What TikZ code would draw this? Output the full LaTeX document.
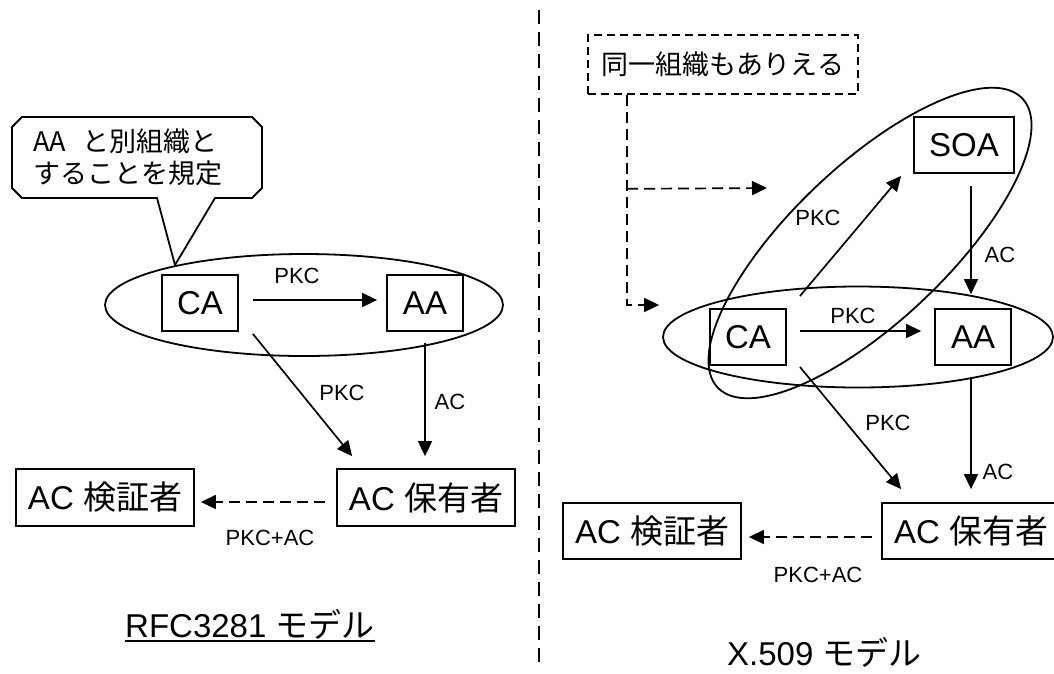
\documentclass[tikz,border=0pt]{standalone}
\usepackage{fontspec}
\setmainfont{Liberation Sans}
\newfontfamily\jp{Noto Sans CJK JP}
\usetikzlibrary{arrows.meta,calc,shapes.geometric}
\begin{document}
\begin{tikzpicture}[x=1pt,y=-1pt,
  box/.style={draw,line width=1.8pt,minimum width=76pt,minimum height=56pt,inner sep=0pt,font=\fontsize{33}{36}\selectfont},
  wbox/.style={box,minimum width=178pt,minimum height=57pt},
  oval/.style={draw,line width=1.8pt,ellipse,inner sep=0pt},
  arr/.style={line width=1.7pt,-{Triangle[length=15pt,width=14pt]}},
  darr/.style={line width=1.7pt,dash pattern=on 11pt off 6pt,-{Triangle[length=15pt,width=14pt]}},
  lbl/.style={inner sep=0pt,font=\fontsize{22}{24}\selectfont},
  divider/.style={line width=1.7pt,dash pattern=on 14pt off 8pt}
]
\useasboundingbox (0,0) rectangle (1054,673);

% ---------- left: RFC3281 ----------
\node[oval,minimum width=398pt,minimum height=102pt] (ellL) at (304,305) {};
\node[box] (caL) at (200,303) {CA};
\node[box] (aaL) at (425,303) {AA};
\node[wbox] (verL) at (105,497.5) {AC {\jp 検証者}};
\node[wbox] (holL) at (426,497.5) {AC {\jp 保有者}};

% callout
\coordinate (tipL) at (175,265);
\draw[line width=1.8pt,fill=white] (22,117) -- (252,117) -- (262,127) -- (262,188) -- (252,198) -- (215,198)
  -- (tipL) -- (157,198) -- (22,198) -- (12,188) -- (12,127) -- cycle;
\node[anchor=west,inner sep=0pt,align=left,font=\jp\fontsize{27}{32}\selectfont] (callout) at (33,157)
  {AA\hspace{0.6em}と別組織と\\することを規定};

\draw[arr] ($(caL.east)+(14,-3)$) -- ($(aaL.west)+(-9,-3)$);
\node[lbl] (l1) at (297,276) {PKC};
\draw[arr] ($(caL.south east)+(14,2)$) -- ($(holL.north west)+(16,-12)$);
\node[lbl] (l2) at (342,393) {PKC};
\draw[arr] ($(aaL.south)+(0,11)$) -- ($(aaL.south |- holL.north)+(0,-12)$);
\node[lbl] (l3) at (450,402) {AC};
\draw[darr] ($(holL.west)+(-11,4.5)$) -- ($(verL.east)+(6,4.5)$);
\node[lbl] (l4) at (270,538) {PKC+AC};

\node[anchor=base west,inner sep=0pt,font=\fontsize{33}{36}\selectfont] (t1) at (125,637) {RFC3281 {\jp モデル}};
\draw[line width=2.8pt] ($(t1.base west)+(0,4)$) -- ($(t1.base east)+(0,4)$);

% divider
\coordinate (dtop) at (539,10);
\coordinate (dbot) at (539,668);
\draw[divider] (dtop) -- (dbot);

% ---------- right: X.509 ----------
\node[oval,minimum width=390pt,minimum height=101pt] (ellR) at (858,337) {};
\node[oval,rotate=43.5,minimum width=420pt,minimum height=156pt] (ellT) at (870,243) {};
\node[box] (caR) at (748,337) {CA};
\node[box] (aaR) at (973,337) {AA};
\node[box,minimum width=100pt] (soa) at (964,145) {SOA};
\node[wbox,minimum height=56pt] (verR) at (652,531) {AC {\jp 検証者}};
\node[wbox,minimum height=56pt] (holR) at (971,531) {AC {\jp 保有者}};

\node[draw,line width=1.7pt,dash pattern=on 8pt off 5pt,minimum width=270pt,minimum height=59pt,inner sep=0pt,
  font=\jp\fontsize{27}{30}\selectfont] (note) at (723,64.5) {同一組織もありえる};
\coordinate (br) at ($(note.south west)+(40,94)$);
\coordinate (brEnd) at (767,188);
\draw[darr] ($(note.south west)+(40,0)$) |- ($(ellR.west)+(-3,-32)$);
\draw[darr] (br) -- (brEnd);

\draw[arr] ($(caR.east)+(13,-6)$) -- ($(aaR.west)+(-13,-6)$);
\node[lbl] (r1) at (853,316) {PKC};
\draw[arr] ($(caR.north east)+(13,-12)$) -- ($(soa.south west)+(-12,2)$);
\node[lbl] (r2) at (818,218) {PKC};
\draw[arr] ($(soa.south -| aaR.north)+(-2,12)$) -- ($(aaR.north)+(-2,-14)$);
\node[lbl] (r3) at (1000,255) {AC};
\draw[arr] ($(caR.south east)+(13,1)$) -- ($(holR.north west)+(20,-13)$);
\node[lbl] (r4) at (888,423) {PKC};
\draw[arr] ($(aaR.south)+(-2,11)$) -- ($(aaR.south |- holR.north)+(-2,-13)$);
\node[lbl] (r5) at (998,472) {AC};
\draw[darr] ($(holR.west)+(-9,6)$) -- ($(verR.east)+(7,6)$);
\node[lbl] (r6) at (818,575) {PKC+AC};

\node[anchor=base west,inner sep=0pt,font=\fontsize{33}{36}\selectfont] (t2) at (727,665) {X.509 {\jp モデル}};
\end{tikzpicture}
\end{document}
